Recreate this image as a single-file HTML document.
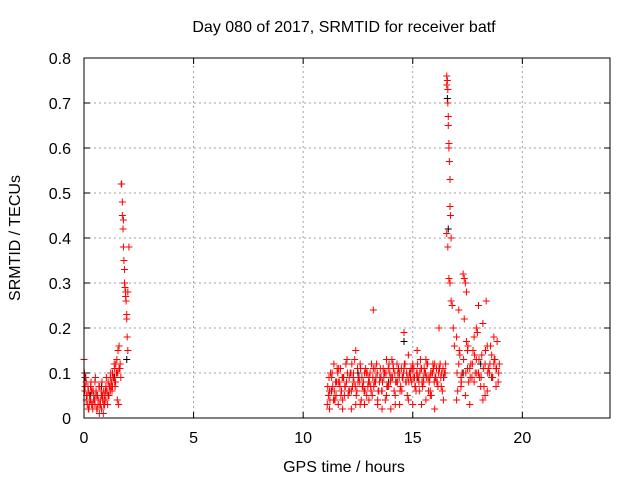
<!DOCTYPE html>
<html><head><meta charset="utf-8"><style>
body{margin:0;background:#fff;font-family:"Liberation Sans",sans-serif}
svg text{font-family:"Liberation Sans",sans-serif;font-size:16px;fill:#000}
</style></head><body>
<svg id="chart" width="640" height="480" xmlns="http://www.w3.org/2000/svg">
<rect width="640" height="480" fill="#fff"/>
<g id="grid"></g>
<g id="marks"></g>
<rect x="84" y="58" width="526" height="360" fill="none" stroke="#000"/>
<g id="ticks"></g>
<text x="344" y="32" text-anchor="middle">Day 080 of 2017, SRMTID for receiver batf</text>
<text x="344" y="472" text-anchor="middle">GPS time / hours</text>
<text x="0" y="0" transform="translate(20,238) rotate(-90)" text-anchor="middle">SRMTID / TECUs</text>
</svg>
<script>
const xTicks=[0,5,10,15,20];
const yTicks=[0,0.1,0.2,0.3,0.4,0.5,0.6,0.7,0.8];
const yLabels=["0","0.1","0.2","0.3","0.4","0.5","0.6","0.7","0.8"];
const times=[0.0,0.05,0.1,0.1,0.15,0.2,0.2,0.25,0.3,0.3,0.35,0.4,0.4,0.45,0.5,0.5,0.55,0.6,0.6,0.65,0.7,0.7,0.75,0.8,0.8,0.85,0.9,0.9,0.95,1.0,1.0,1.05,1.1,1.1,1.15,1.2,1.2,1.25,1.3,1.3,1.35,1.4,1.4,1.45,1.5,1.5,1.55,1.6,1.6,1.65,1.7,1.72,1.75,1.75,1.78,1.8,1.8,1.82,1.85,1.85,1.87,1.9,1.9,1.92,1.95,1.95,1.97,2.0,2.0,2.05,
0.02,0.08,0.12,0.18,0.22,0.28,0.32,0.38,0.42,0.48,0.52,0.58,0.62,0.68,0.72,0.78,0.82,0.88,0.92,0.98,1.02,1.08,1.12,1.18,1.22,1.28,1.32,1.38,1.42,1.48,1.52,1.58,
11.1,11.2,11.3,11.4,11.5,11.6,11.7,11.8,11.9,12.0,12.1,12.2,12.3,12.4,12.5,12.6,12.7,12.8,12.9,13.0,13.1,13.2,13.3,13.4,13.5,13.6,13.7,13.8,13.9,14.0,14.1,14.2,14.3,14.4,14.5,14.6,14.7,14.8,14.9,15.0,15.1,15.2,15.3,15.4,15.5,15.6,15.7,15.8,15.9,16.0,16.1,16.2,16.3,16.4,16.5,
11.15,11.25,11.35,11.45,11.55,11.65,11.75,11.85,11.95,12.05,12.15,12.25,12.35,12.45,12.55,12.65,12.75,12.85,12.95,13.05,13.15,13.25,13.35,13.45,13.55,13.65,13.75,13.85,13.95,14.05,14.15,14.25,14.35,14.45,14.55,14.65,14.75,14.85,14.95,15.05,15.15,15.25,15.35,15.45,15.55,15.65,15.75,15.85,15.95,16.05,16.15,16.25,16.35,16.45,
11.2,11.4,11.6,11.8,12.0,12.2,12.4,12.6,12.8,13.0,13.2,13.4,13.6,13.8,14.0,14.2,14.4,14.6,14.8,15.0,15.2,15.4,15.6,15.8,16.0,16.2,16.4,
11.12,11.22,11.32,11.42,11.52,11.62,11.72,11.82,11.92,12.02,12.12,12.22,12.32,12.42,12.52,12.62,12.72,12.82,12.92,13.02,13.12,13.22,13.32,13.42,13.52,13.62,13.72,13.82,13.92,14.02,14.12,14.22,14.32,14.42,14.52,14.62,14.72,14.82,14.92,15.02,15.12,15.22,15.32,15.42,15.52,15.62,15.72,15.82,15.92,16.02,16.12,16.22,16.32,16.42,
11.18,11.28,11.38,11.48,11.58,11.68,11.78,11.88,11.98,12.08,12.18,12.28,12.38,12.48,12.58,12.68,12.78,12.88,12.98,13.08,13.18,13.28,13.38,13.48,13.58,13.68,13.78,13.88,13.98,14.08,14.18,14.28,14.38,14.48,14.58,14.68,14.78,14.88,14.98,15.08,15.18,15.28,15.38,15.48,15.58,15.68,15.78,15.88,15.98,16.08,16.18,16.28,16.38,16.48,
16.55,16.55,16.58,16.6,16.6,16.62,16.62,16.65,16.65,16.67,16.7,16.7,16.72,16.75,16.55,16.6,16.65,16.7,16.75,16.8,16.85,16.9,
17.0,17.1,17.2,17.3,17.35,17.4,17.45,17.5,17.6,17.7,17.8,17.9,18.0,18.1,18.2,18.3,18.4,18.5,18.6,18.7,18.8,18.9,
17.05,17.15,17.25,17.35,17.45,17.55,17.65,17.75,17.85,17.95,18.05,18.15,18.25,18.35,18.45,18.55,18.65,18.75,18.85,18.95,
17.0,17.2,17.4,17.6,17.8,18.0,18.2,18.4,18.6,18.8,17.1,17.5,17.9,18.3,18.7,
17.02,17.12,17.22,17.32,17.42,17.52,17.62,17.72,17.82,17.92,18.02,18.12,18.22,18.32,18.42,18.52,18.62,18.72,18.82,18.92,
0.04,0.14,0.24,0.34,0.44,0.54,0.64,0.74,0.84,0.94,1.04,1.14,1.24,1.34,1.44,1.54,1.64,1.68];
const values=[0.13,0.07,0.04,0.08,0.03,0.06,0.02,0.05,0.04,0.07,0.03,0.06,0.02,0.05,0.08,0.03,0.06,0.02,0.05,0.04,0.07,0.01,0.03,0.05,0.02,0.04,0.06,0.03,0.05,0.07,0.04,0.06,0.08,0.05,0.07,0.09,0.06,0.08,0.1,0.07,0.09,0.11,0.08,0.12,0.1,0.13,0.15,0.11,0.16,0.12,0.52,0.52,0.48,0.45,0.42,0.44,0.38,0.35,0.33,0.3,0.29,0.28,0.27,0.26,0.23,0.22,0.18,0.15,0.28,0.38,
0.1,0.09,0.05,0.07,0.02,0.04,0.08,0.03,0.06,0.04,0.09,0.02,0.05,0.07,0.03,0.06,0.08,0.01,0.04,0.06,0.09,0.03,0.05,0.07,0.1,0.06,0.09,0.12,0.07,0.1,0.04,0.03,
0.03,0.06,0.09,0.12,0.05,0.08,0.11,0.04,0.07,0.13,0.09,0.06,0.1,0.03,0.08,0.12,0.07,0.1,0.05,0.09,0.06,0.11,0.08,0.04,0.09,0.06,0.1,0.13,0.07,0.09,0.12,0.05,0.08,0.1,0.06,0.11,0.08,0.14,0.09,0.12,0.07,0.1,0.06,0.11,0.08,0.13,0.09,0.06,0.1,0.12,0.08,0.11,0.07,0.09,0.12,
0.05,0.1,0.07,0.04,0.11,0.08,0.06,0.09,0.12,0.05,0.1,0.07,0.13,0.06,0.09,0.04,0.08,0.11,0.07,0.1,0.05,0.08,0.12,0.06,0.09,0.11,0.04,0.07,0.1,0.13,0.06,0.08,0.11,0.07,0.09,0.12,0.05,0.1,0.08,0.11,0.06,0.09,0.13,0.07,0.1,0.12,0.08,0.05,0.11,0.09,0.07,0.12,0.06,0.1,
0.02,0.04,0.03,0.02,0.13,0.02,0.15,0.03,0.03,0.04,0.24,0.03,0.02,0.05,0.02,0.03,0.03,0.19,0.04,0.03,0.15,0.03,0.04,0.05,0.02,0.2,0.04,
0.07,0.04,0.1,0.06,0.08,0.11,0.05,0.09,0.07,0.1,0.06,0.12,0.08,0.05,0.09,0.11,0.07,0.06,0.1,0.08,0.12,0.07,0.09,0.06,0.11,0.08,0.1,0.07,0.12,0.09,0.11,0.08,0.1,0.06,0.09,0.12,0.1,0.08,0.11,0.09,0.07,0.12,0.1,0.08,0.11,0.09,0.06,0.1,0.12,0.09,0.08,0.11,0.1,0.09,
0.09,0.06,0.04,0.08,0.1,0.07,0.09,0.05,0.08,0.06,0.1,0.09,0.07,0.11,0.08,0.09,0.06,0.1,0.08,0.07,0.09,0.11,0.1,0.08,0.06,0.09,0.1,0.11,0.08,0.09,0.1,0.12,0.09,0.11,0.1,0.08,0.09,0.1,0.11,0.09,0.1,0.08,0.11,0.09,0.1,0.12,0.09,0.1,0.08,0.11,0.1,0.09,0.11,0.1,
0.76,0.74,0.75,0.73,0.7,0.67,0.65,0.61,0.6,0.57,0.53,0.47,0.45,0.4,0.41,0.38,0.31,0.3,0.26,0.25,0.2,0.16,
0.18,0.12,0.09,0.32,0.31,0.3,0.28,0.15,0.11,0.09,0.18,0.13,0.25,0.07,0.21,0.12,0.16,0.1,0.14,0.12,0.11,0.08,
0.06,0.14,0.1,0.22,0.17,0.08,0.12,0.15,0.1,0.19,0.09,0.14,0.07,0.26,0.11,0.16,0.09,0.13,0.17,0.12,
0.04,0.07,0.05,0.03,0.08,0.1,0.04,0.06,0.09,0.07,0.24,0.11,0.2,0.05,0.18,
0.1,0.15,0.08,0.13,0.1,0.16,0.09,0.12,0.14,0.1,0.13,0.09,0.11,0.15,0.1,0.12,0.09,0.13,0.11,0.1,
0.06,0.05,0.03,0.06,0.04,0.05,0.03,0.04,0.05,0.03,0.06,0.05,0.07,0.09,0.08,0.1,0.11,0.09];
const blackTimes=[0.05,0.3,0.8,1.4,1.95,11.3,12.5,13.9,14.6,15.2,16.58,16.62,16.7,17.3,18.1,18.6];
const blackValues=[0.09,0.05,0.07,0.09,0.13,0.06,0.1,0.08,0.17,0.09,0.71,0.42,0.53,0.1,0.12,0.09];
const X0=84,X1=610,Y0=418,Y1=58;
const xs=v=>X0+v/24*(X1-X0);
const ys=v=>Y0-v/0.8*(Y0-Y1);
const NS="http://www.w3.org/2000/svg";
function mk(t,a,p){const e=document.createElementNS(NS,t);for(const k in a)e.setAttribute(k,a[k]);p.appendChild(e);return e;}
const grid=document.getElementById('grid'),ticks=document.getElementById('ticks'),marks=document.getElementById('marks');
xTicks.forEach(t=>{const x=xs(t);
 if(t>0){const g=mk('line',{x1:x,x2:x,y1:Y0,y2:Y1,stroke:'#a0a0a0','stroke-dasharray':'2,3'},grid);
 
 }
 mk('line',{x1:x,x2:x,y1:Y0,y2:Y0-6,stroke:'#000'},ticks);mk('line',{x1:x,x2:x,y1:Y1,y2:Y1+6,stroke:'#000'},ticks);
 const tx=mk('text',{x:x,y:Y0+25,'text-anchor':'middle'},ticks);tx.textContent=t;
 
 });
yTicks.forEach((t,i)=>{const y=ys(t);
 if(t>0&&t<0.8){const g=mk('line',{x1:X0,x2:X1,y1:y,y2:y,stroke:'#a0a0a0','stroke-dasharray':'2,3'},grid);
 
 }
 mk('line',{x1:X0,x2:X0+6,y1:y,y2:y,stroke:'#000'},ticks);mk('line',{x1:X1,x2:X1-6,y1:y,y2:y,stroke:'#000'},ticks);
 const tx=mk('text',{x:X0-13,y:y+6,'text-anchor':'end'},ticks);tx.textContent=yLabels[i];
 
 });
function plus(t,v,c){const x=xs(t),y=ys(v);
 const p=mk('path',{d:`M${x-3.5},${y}H${x+3.5}M${x},${y-3.5}V${y+3.5}`,stroke:c,'stroke-width':1,fill:'none'},marks);
 
 }
blackTimes.forEach((t,i)=>plus(t,blackValues[i],'#000'));
times.forEach((t,i)=>plus(t,values[i],'#f00'));
</script>
</body></html>
